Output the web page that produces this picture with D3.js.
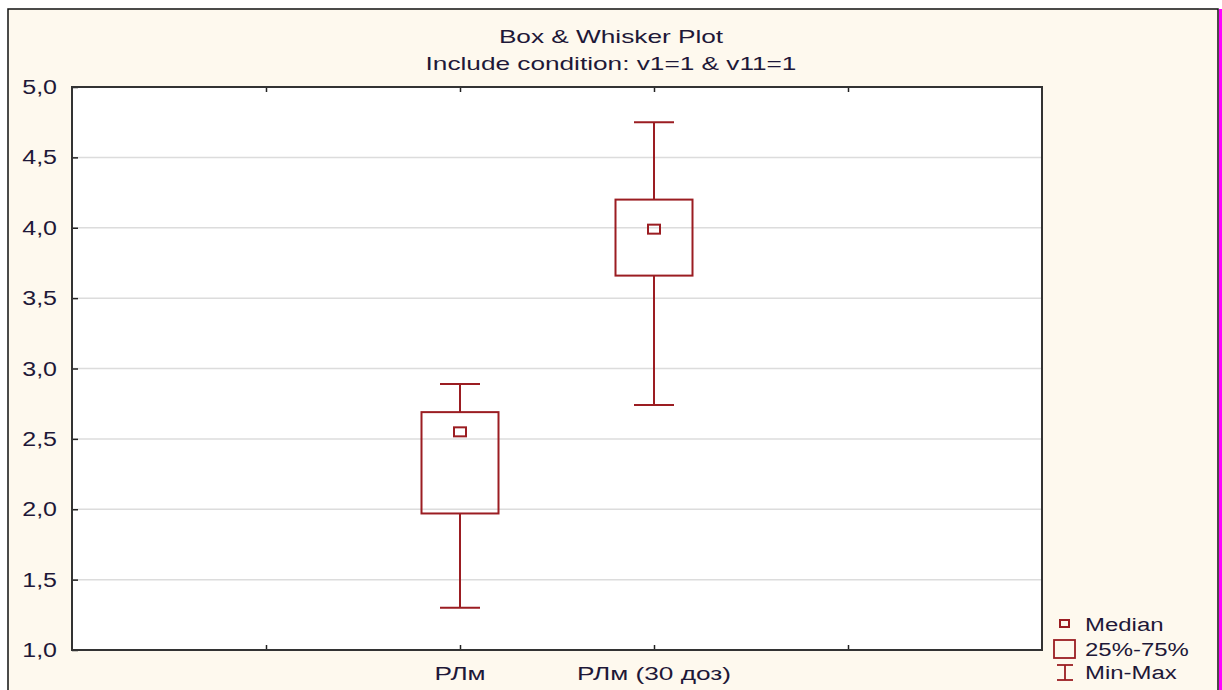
<!DOCTYPE html>
<html><head><meta charset="utf-8">
<script src="https://cdn.jsdelivr.net/npm/d3@7"></script>
<style>
html,body{margin:0;padding:0;background:#fff;}
svg{display:block;}
text{font-family:"Liberation Sans",Arial,sans-serif;fill:#1e1838;}
</style></head>
<body>
<svg id="chart" width="1222" height="690"></svg>
<script>
// Data
const categories = ["РЛм", "РЛм (30 доз)"];
const minValues = [1.30, 2.74];
const q1Values = [1.97, 3.66];
const medianValues = [2.55, 3.99];
const q3Values = [2.69, 4.20];
const maxValues = [2.89, 4.75];
const yTicks = [1.0, 1.5, 2.0, 2.5, 3.0, 3.5, 4.0, 4.5, 5.0];
const titleLines = ["Box & Whisker Plot", "Include condition: v1=1 & v11=1"];
const legendLabels = ["Median", "25%-75%", "Min-Max"];

const svg = d3.select("#chart");
const W = 1222, H = 690;
const color = "#9b1d22";
const plot = {l: 72, t: 87, r: 1042, b: 650};

// outer background & frame
svg.append("rect").attr("x",0).attr("y",0).attr("width",W).attr("height",H).attr("fill","#ffffff");
svg.append("rect").attr("x",8).attr("y",9).attr("width",1210).attr("height",H).attr("fill","#fef9ee")
  .attr("stroke","#111").attr("stroke-width",1.5);
svg.append("rect").attr("x",1219).attr("y",9).attr("width",3).attr("height",H).attr("fill","#ff00ff");

// plot area
svg.append("rect").attr("x",plot.l).attr("y",plot.t).attr("width",plot.r-plot.l).attr("height",plot.b-plot.t).attr("fill","#fff");

const y = d3.scaleLinear().domain([1,5]).range([plot.b, plot.t]);
// x: 5 equal slots, categories at positions 2 and 3 (ticks at 1..4)
const x = d3.scaleLinear().domain([0,5]).range([plot.l, plot.r]);
const catPos = categories.map((c,i)=>i+2);
const xTickVals = [1,2,3,4];

// gridlines
svg.append("g").selectAll("line").data(yTicks.filter(v=>v>1&&v<5)).join("line")
  .attr("x1",plot.l).attr("x2",plot.r).attr("y1",d=>y(d)).attr("y2",d=>y(d))
  .attr("stroke","#dcdcdc").attr("stroke-width",1.5);

// left axis with inward ticks
const fmt = d => d3.format(".1f")(d).replace(".", ",");
const yAxis = svg.append("g").attr("transform",`translate(${plot.l},0)`)
  .call(d3.axisRight(y).tickValues(yTicks).tickSize(6).tickFormat(""));
yAxis.select(".domain").remove();
yAxis.selectAll("line").attr("stroke","#222").attr("stroke-width",1.5);
svg.append("g").selectAll("text").data(yTicks).join("text")
  .attr("transform",d=>`translate(57,${y(d)+7}) scale(1.25,1)`)
  .attr("text-anchor","end").attr("font-size",20).text(fmt);

// bottom & top ticks
const xAxisB = svg.append("g").attr("transform",`translate(0,${plot.b})`)
  .call(d3.axisTop(x).tickValues(xTickVals).tickSize(5).tickFormat(""));
xAxisB.select(".domain").remove();
xAxisB.selectAll("line").attr("stroke","#222").attr("stroke-width",1.5);
const xAxisT = svg.append("g").attr("transform",`translate(0,${plot.t})`)
  .call(d3.axisBottom(x).tickValues(xTickVals).tickSize(5).tickFormat(""));
xAxisT.select(".domain").remove();
xAxisT.selectAll("line").attr("stroke","#222").attr("stroke-width",1.5);

// category labels
svg.append("g").selectAll("text").data(categories).join("text")
  .attr("transform",(d,i)=>`translate(${x(catPos[i])},680) scale(1.38,1)`)
  .attr("text-anchor","middle").attr("font-size",19).text(d=>d);

// plot border
svg.append("rect").attr("x",plot.l).attr("y",plot.t).attr("width",plot.r-plot.l).attr("height",plot.b-plot.t)
  .attr("fill","none").attr("stroke","#333").attr("stroke-width",2);

// boxes
const boxW = 77, capW = 40, medW = 12, medH = 9;
const g = svg.append("g").attr("fill","none").attr("stroke",color).attr("stroke-width",2);
categories.forEach((c,i)=>{
  const cx = x(catPos[i]);
  g.append("line").attr("x1",cx).attr("x2",cx).attr("y1",y(maxValues[i])).attr("y2",y(q3Values[i]));
  g.append("line").attr("x1",cx).attr("x2",cx).attr("y1",y(q1Values[i])).attr("y2",y(minValues[i]));
  g.append("line").attr("x1",cx-capW/2).attr("x2",cx+capW/2).attr("y1",y(maxValues[i])).attr("y2",y(maxValues[i]));
  g.append("line").attr("x1",cx-capW/2).attr("x2",cx+capW/2).attr("y1",y(minValues[i])).attr("y2",y(minValues[i]));
  g.append("rect").attr("x",cx-boxW/2).attr("y",y(q3Values[i])).attr("width",boxW).attr("height",y(q1Values[i])-y(q3Values[i]));
  g.append("rect").attr("x",cx-medW/2).attr("y",y(medianValues[i])-medH/2).attr("width",medW).attr("height",medH);
});

// title
svg.append("g").selectAll("text").data(titleLines).join("text")
  .attr("transform",(d,i)=>`translate(611,${i===0?43:70}) scale(1.38,1)`)
  .attr("text-anchor","middle").attr("font-size",19).text(d=>d);

// legend
const lg = svg.append("g");
lg.append("rect").attr("x",1060).attr("y",620).attr("width",9).attr("height",7).attr("fill","none").attr("stroke",color).attr("stroke-width",2);
lg.append("rect").attr("x",1054).attr("y",640).attr("width",21).attr("height",18).attr("fill","none").attr("stroke",color).attr("stroke-width",1.8);
lg.append("line").attr("x1",1065).attr("x2",1065).attr("y1",665).attr("y2",680).attr("stroke",color).attr("stroke-width",1.8);
lg.append("line").attr("x1",1057).attr("x2",1073).attr("y1",665).attr("y2",665).attr("stroke",color).attr("stroke-width",1.8);
lg.append("line").attr("x1",1057).attr("x2",1073).attr("y1",680).attr("y2",680).attr("stroke",color).attr("stroke-width",1.8);
lg.selectAll("text").data(legendLabels).join("text")
  .attr("transform",(d,i)=>`translate(1085,${[631,656,679][i]}) scale(1.26,1)`)
  .attr("font-size",19).text(d=>d);
</script>
</body></html>
